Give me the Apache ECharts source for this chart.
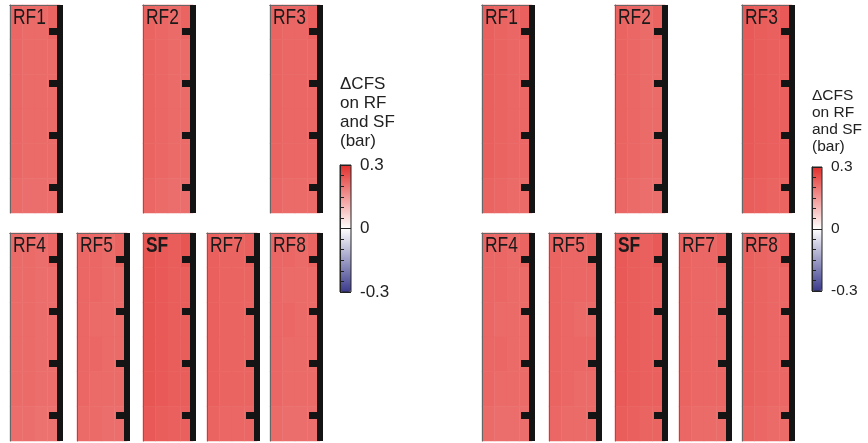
<!DOCTYPE html>
<html>
<head>
<meta charset="utf-8">
<script src="https://cdn.jsdelivr.net/npm/echarts@6/dist/echarts.min.js"></script>
<style>
  html, body { margin: 0; padding: 0; background: #fff; }
  #main { width: 868px; height: 443px; }
</style>
</head>
<body>
<div id="main"></div>
<script>
// fault planes, in drawing order
const faults = ['RF1', 'RF2', 'RF3', 'RF4', 'RF5', 'SF', 'RF7', 'RF8']
const colNames = ['c1', 'c2', 'c3', 'c4']
const rowNames = ['r1', 'r2', 'r3', 'r4', 'r5', 'r6']
const depthTicks = [1, 3, 5, 7]
const cbarTicks = [-0.3, 0, 0.3]

// ΔCFS (bar), rows top -> bottom, cols left -> right. left panel set
const leftRF1 = [[0.220, 0.215, 0.215, 0.225], [0.220, 0.215, 0.215, 0.215], [0.220, 0.215, 0.215, 0.215], [0.220, 0.215, 0.215, 0.215], [0.220, 0.215, 0.215, 0.215], [0.215, 0.210, 0.210, 0.210]]
const leftRF2 = [[0.225, 0.220, 0.215, 0.225], [0.225, 0.220, 0.215, 0.215], [0.225, 0.220, 0.215, 0.215], [0.225, 0.220, 0.215, 0.215], [0.225, 0.220, 0.215, 0.215], [0.220, 0.215, 0.210, 0.210]]
const leftRF3 = [[0.225, 0.220, 0.220, 0.230], [0.225, 0.220, 0.220, 0.220], [0.225, 0.220, 0.220, 0.220], [0.225, 0.220, 0.220, 0.220], [0.225, 0.220, 0.220, 0.220], [0.220, 0.215, 0.215, 0.215]]
const leftRF4 = [[0.215, 0.215, 0.210, 0.220], [0.215, 0.215, 0.210, 0.210], [0.215, 0.215, 0.210, 0.210], [0.215, 0.215, 0.210, 0.210], [0.215, 0.215, 0.210, 0.210], [0.210, 0.210, 0.205, 0.205]]
const leftRF5 = [[0.220, 0.220, 0.215, 0.225], [0.220, 0.220, 0.215, 0.215], [0.220, 0.215, 0.215, 0.215], [0.220, 0.220, 0.215, 0.215], [0.220, 0.215, 0.215, 0.215], [0.215, 0.215, 0.210, 0.210]]
const leftSF = [[0.245, 0.240, 0.235, 0.245], [0.245, 0.240, 0.235, 0.235], [0.245, 0.240, 0.235, 0.235], [0.245, 0.240, 0.235, 0.235], [0.245, 0.240, 0.235, 0.235], [0.240, 0.235, 0.230, 0.230]]
const leftRF7 = [[0.230, 0.225, 0.225, 0.230], [0.230, 0.225, 0.225, 0.225], [0.230, 0.225, 0.225, 0.225], [0.230, 0.225, 0.225, 0.225], [0.230, 0.225, 0.225, 0.225], [0.225, 0.220, 0.220, 0.220]]
const leftRF8 = [[0.220, 0.220, 0.215, 0.225], [0.220, 0.215, 0.215, 0.215], [0.220, 0.220, 0.215, 0.215], [0.220, 0.215, 0.215, 0.215], [0.220, 0.215, 0.215, 0.215], [0.215, 0.210, 0.210, 0.210]]

// right panel set
const rightRF1 = [[0.230, 0.225, 0.220, 0.230], [0.230, 0.225, 0.220, 0.220], [0.230, 0.225, 0.220, 0.220], [0.230, 0.225, 0.220, 0.220], [0.230, 0.225, 0.220, 0.220], [0.225, 0.220, 0.215, 0.215]]
const rightRF2 = [[0.225, 0.220, 0.215, 0.225], [0.225, 0.220, 0.215, 0.215], [0.225, 0.220, 0.215, 0.215], [0.225, 0.220, 0.215, 0.215], [0.225, 0.220, 0.215, 0.215], [0.220, 0.215, 0.210, 0.210]]
const rightRF3 = [[0.240, 0.235, 0.230, 0.240], [0.240, 0.235, 0.230, 0.230], [0.240, 0.235, 0.230, 0.230], [0.240, 0.235, 0.230, 0.230], [0.240, 0.235, 0.230, 0.230], [0.235, 0.230, 0.225, 0.225]]
const rightRF4 = [[0.220, 0.220, 0.215, 0.225], [0.220, 0.220, 0.215, 0.215], [0.220, 0.215, 0.215, 0.215], [0.220, 0.220, 0.215, 0.215], [0.220, 0.215, 0.215, 0.215], [0.215, 0.210, 0.210, 0.210]]
const rightRF5 = [[0.225, 0.220, 0.220, 0.225], [0.225, 0.220, 0.220, 0.220], [0.225, 0.220, 0.215, 0.215], [0.225, 0.220, 0.220, 0.220], [0.225, 0.220, 0.215, 0.215], [0.220, 0.215, 0.215, 0.215]]
const rightSF = [[0.240, 0.235, 0.230, 0.240], [0.240, 0.235, 0.230, 0.230], [0.240, 0.235, 0.230, 0.230], [0.240, 0.235, 0.230, 0.230], [0.240, 0.235, 0.230, 0.230], [0.235, 0.230, 0.225, 0.225]]
const rightRF7 = [[0.225, 0.220, 0.220, 0.230], [0.225, 0.220, 0.220, 0.220], [0.225, 0.220, 0.220, 0.220], [0.225, 0.220, 0.220, 0.220], [0.225, 0.220, 0.220, 0.220], [0.220, 0.215, 0.215, 0.215]]
const rightRF8 = [[0.230, 0.225, 0.220, 0.230], [0.230, 0.225, 0.220, 0.220], [0.230, 0.225, 0.220, 0.220], [0.230, 0.225, 0.220, 0.220], [0.230, 0.225, 0.220, 0.220], [0.225, 0.220, 0.215, 0.215]]

const leftSet = [leftRF1, leftRF2, leftRF3, leftRF4, leftRF5, leftSF, leftRF7, leftRF8]
const rightSet = [rightRF1, rightRF2, rightRF3, rightRF4, rightRF5, rightSF, rightRF7, rightRF8]

// layout (px)
const panelLeft = [10, 143, 270, 10, 77, 143, 207, 270]
const panelTop = [5, 5, 5, 233, 233, 233, 233, 233]
const panelW = 50
const panelH = 208
const setOffset = [0, 472]
const cmap = ['#3a3a8c', '#ffffff', '#e3302d']

let chart = echarts.init(document.getElementById('main'))

let grids = []
let xAxes = []
let yAxes = []
let series = []
let graphics = []

;[leftSet, rightSet].forEach((set, s) => {
    set.forEach((vals, f) => {
        let gi = grids.length
        let L = panelLeft[f] + setOffset[s]
        grids.push({ left: L, top: panelTop[f], width: panelW, height: panelH })
        let thin = { show: true, lineStyle: { color: '#666', width: 1 } }
        xAxes.push({ type: 'category', gridIndex: gi, data: colNames, position: 'bottom', z: 3,
            axisLine: thin, axisTick: { show: false }, axisLabel: { show: false } })
        xAxes.push({ type: 'category', gridIndex: gi, data: colNames, position: 'top', z: 3,
            axisLine: thin, axisTick: { show: false }, axisLabel: { show: false } })
        yAxes.push({ type: 'category', gridIndex: gi, data: rowNames, inverse: true, position: 'left', z: 3,
            axisLine: thin, axisTick: { show: false }, axisLabel: { show: false } })
        yAxes.push({ type: 'value', gridIndex: gi, min: 0, max: 8, inverse: true, position: 'right', z: 4,
            axisLine: { show: true, lineStyle: { color: '#141414', width: 6, cap: 'butt' } },
            axisTick: { show: true, inside: true, length: 11, customValues: depthTicks,
                lineStyle: { color: '#141414', width: 7, cap: 'butt' } },
            axisLabel: { show: false }, splitLine: { show: false } })
        let data = []
        vals.forEach((row, r) => row.forEach((v, c) => data.push([c, r, v])))
        series.push({ type: 'heatmap', xAxisIndex: 2 * gi, yAxisIndex: 2 * gi, data: data, z: 2,
            itemStyle: { borderWidth: 0 }, emphasis: { disabled: true } })
        let bold = faults[f] === 'SF'
        graphics.push({ type: 'text', x: L + 3, y: panelTop[f] + 13, scaleX: 0.79, z: 10,
            style: { text: faults[f], fill: '#1a1a1a', font: (bold ? 'bold ' : '') + '22px "Liberation Sans", Arial',
                verticalAlign: 'middle' } })
    })
})

// colour bars: [left, top, width, height, font, line height]
const cbars = [[340, 165, 11, 127, 17, 19], [812, 167, 10, 124, 15.5, 17]]
cbars.forEach((cb, k) => {
    let gi = grids.length
    grids.push({ left: cb[0], top: cb[1], width: cb[2], height: cb[3], show: true,
        borderColor: '#222', borderWidth: 1, backgroundColor: 'transparent', z: 10 })
    xAxes.push({ type: 'value', gridIndex: gi, show: false, min: 0, max: 1 })
    yAxes.push({ type: 'value', gridIndex: gi, min: -0.3, max: 0.3, interval: 0.3, position: 'right', z: 10,
        axisLine: { show: true, lineStyle: { color: '#222', width: 1 } },
        axisTick: { show: true, length: 4, lineStyle: { color: '#222' } },
        minorTick: { show: true, splitNumber: 6, length: 4, lineStyle: { color: '#222' } },
        splitLine: { show: true, lineStyle: { color: '#222', width: 1 } },
        axisLabel: { margin: 9, color: '#222', fontSize: cb[4], fontFamily: 'Liberation Sans',
            formatter: v => (cbarTicks.indexOf(Math.round(v * 10) / 10) >= 0 ? (v === 0 ? '0' : v.toFixed(1)) : '') } })
    graphics.push({ type: 'text', x: cb[0], y: cb[1] - (k === 0 ? 90 : 80), z: 10,
        style: { text: 'ΔCFS\non RF\nand SF\n(bar)', fill: '#222', font: cb[4] + 'px "Liberation Sans", Arial',
            lineHeight: cb[5], verticalAlign: 'top' } })
})

let visualMaps = cbars.map((cb, k) => ({
    type: 'continuous', min: -0.3, max: 0.3, orient: 'vertical', calculable: false, hoverLink: false,
    seriesIndex: k === 0 ? [0, 1, 2, 3, 4, 5, 6, 7] : [8, 9, 10, 11, 12, 13, 14, 15],
    left: cb[0], top: cb[1], itemWidth: cb[2], itemHeight: cb[3], padding: 0, text: null,
    inRange: { color: cmap }
}))

let option = {
    animation: false,
    backgroundColor: '#fff',
    grid: grids,
    xAxis: xAxes,
    yAxis: yAxes,
    visualMap: visualMaps,
    series: series,
    graphic: graphics,
}
chart.setOption(option)
</script>
</body>
</html>
